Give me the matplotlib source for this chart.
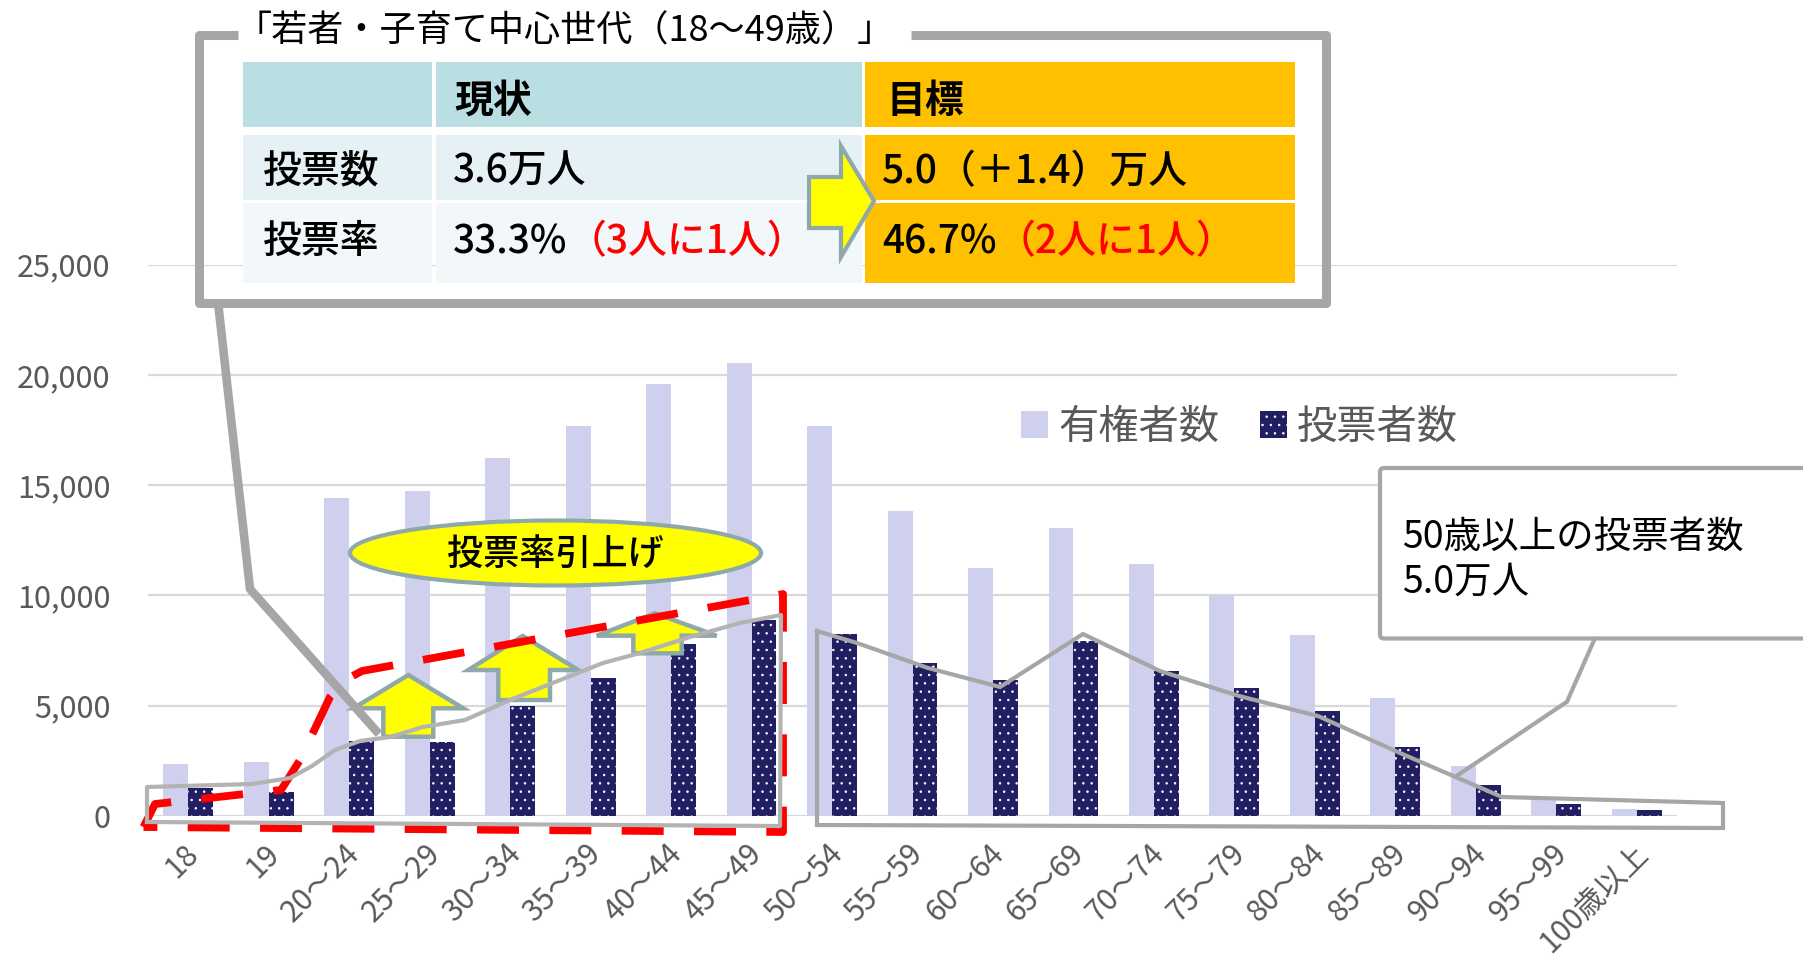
import matplotlib
matplotlib.use('Agg')
import matplotlib.pyplot as plt
import matplotlib.transforms as mtransforms
from matplotlib.patches import Polygon, Ellipse, FancyBboxPatch, Rectangle
from matplotlib.lines import Line2D
import numpy as np

plt.rcParams['font.family'] = ['Noto Sans CJK JP', 'DejaVu Sans']
plt.rcParams['hatch.linewidth'] = 0.55

# ---------------- data ----------------
categories = ['18', '19', '20～24', '25～29', '30～34', '35～39', '40～44', '45～49',
              '50～54', '55～59', '60～64', '65～69', '70～74', '75～79', '80～84',
              '85～89', '90～94', '95～99', '100歳以上']
eligible = [2350, 2450, 14400, 14730, 16220, 17690, 19570, 20560, 17690, 13810,
            11240, 13070, 11440, 10030, 8220, 5330, 2260, 780, 310]
voters = [1250, 1060, 3390, 3340, 4970, 6270, 7800, 8860, 8250, 6950,
          6140, 7920, 6580, 5790, 4760, 3120, 1380, 520, 250]
series_names = ['有権者数', '投票者数']
yticks = [0, 5000, 10000, 15000, 20000, 25000]
ytick_labels = ['0', '5,000', '10,000', '15,000', '20,000', '25,000']

title_text = '「若者・子育て中心世代（18～49歳）」'
table_header = ['', '現状', '目標']
row_labels = ['投票数', '投票率']
current_main = ['3.6万人', '33.3%']
current_note = ['', '（3人に1人）']
target_main = ['5.0（＋1.4）万人', '46.7%']
target_note = ['', '（2人に1人）']
ellipse_text = '投票率引上げ'
older_text = '50歳以上の投票者数\n5.0万人'

# ---------------- figure ----------------
W, H = 1803, 957
fig = plt.figure(figsize=(W / 100, H / 100), dpi=100)


def fx(px):
    return px / W


def fy(py):
    return 1 - py / H


AX_L, AX_R, AX_T, AX_B = 148, 1677, 264.7, 815.7
ax = fig.add_axes([fx(AX_L), fy(AX_B), (AX_R - AX_L) / W, (AX_B - AX_T) / H])

x = np.arange(len(categories))
bw = 0.31
ax.bar(x - bw / 2, eligible, width=bw, color='#CFD0EE', label=series_names[0], zorder=2)
ax.bar(x + bw / 2, voters, width=bw, color='#211F62', edgecolor='white', linewidth=0,
       hatch='..', label=series_names[1], zorder=3)
ax.set_xlim(-0.5, len(categories) - 0.5)
ax.set_ylim(0, 25000)
ax.set_yticks(yticks, ytick_labels)
ax.set_xticks(x, categories)
ax.grid(axis='y', color='#D9D9D9', lw=1.6, zorder=0)
ax.set_axisbelow(True)
for s in ax.spines.values():
    s.set_visible(False)
ax.tick_params(axis='both', length=0, labelsize=22, labelcolor='#595959')
ax.tick_params(axis='x', labelsize=21.5)
ax.tick_params(axis='y', pad=27)
ax.tick_params(axis='x', pad=24)
for lab in ax.get_xticklabels():
    lab.set_rotation(45)
    lab.set_ha('right')
    lab.set_va('center')
    lab.set_rotation_mode('anchor')
    lab.set_transform(lab.get_transform() +
                      mtransforms.ScaledTranslation(6 / 100, 0, fig.dpi_scale_trans))

ax.legend(loc='center left', bbox_to_anchor=(fx(1021), fy(427)),
          bbox_transform=fig.transFigure, ncol=2, frameon=False, fontsize=29,
          handlelength=0.68, handleheight=0.68, handletextpad=0.25,
          columnspacing=1.0, borderpad=0, borderaxespad=0, labelcolor='#595959')

# ---------------- overlay (pixel coordinates) ----------------
ov = fig.add_axes([0, 0, 1, 1], zorder=10)
ov.set_xlim(0, W)
ov.set_ylim(H, 0)
ov.axis('off')

GRAY = '#A6A6A6'
TEAL = '#8FA9AB'


def pline(pts, **kw):
    xs, ys = zip(*pts)
    ov.add_line(Line2D(xs, ys, **kw))


# big callout frame
pline([(238, 35), (199, 35), (199, 302.5), (1325.5, 302.5), (1325.5, 35), (911, 35)],
      color=GRAY, lw=6.5, solid_joinstyle='round', solid_capstyle='butt')
pline([(218, 302), (250, 589), (379, 734)], color=GRAY, lw=6.2,
      solid_joinstyle='round', solid_capstyle='butt')
ov.text(236, 32, title_text, fontsize=26, va='center', ha='left', color='black')

# table
cols = [(243, 432), (436, 862), (865, 1295)]
rows = [(62, 127), (135, 200), (203, 283)]
cell_colors = [['#B9DFE3', '#B9DFE3', '#FFC000'],
               ['#E5F1F4', '#E5F1F4', '#FFC000'],
               ['#F2F7FA', '#F2F7FA', '#FFC000']]
for ri, (y0, y1) in enumerate(rows):
    for ci, (x0, x1) in enumerate(cols):
        ov.add_patch(Rectangle((x0, y0), x1 - x0, y1 - y0, facecolor=cell_colors[ri][ci],
                               edgecolor='none'))
TS = 28
ov.text(454, 101, table_header[1], fontsize=TS, fontweight='bold', va='center', ha='left')
ov.text(886, 101, table_header[2], fontsize=TS, fontweight='bold', va='center', ha='left')
row_y = [172, 242]
for i in range(2):
    ov.text(263, row_y[i], row_labels[i], fontsize=TS, fontweight='medium',
            va='center', ha='left')
    t1 = ov.text(453, row_y[i], current_main[i], fontsize=TS, fontweight='medium',
                 va='center', ha='left')
    if current_note[i]:
        ov.annotate(current_note[i], xy=(1, 0), xycoords=t1, va='bottom', ha='left',
                    fontsize=TS, fontweight='medium', color='#FF0000')
    t2 = ov.text(882, row_y[i], target_main[i], fontsize=TS, fontweight='medium',
                 va='center', ha='left')
    if target_note[i]:
        ov.annotate(target_note[i], xy=(1, 0), xycoords=t2, va='bottom', ha='left',
                    fontsize=TS, fontweight='medium', color='#FF0000')

# right block arrow
ov.add_patch(Polygon([(809, 177), (841, 177), (841, 146), (874, 201), (841, 257),
                      (841, 228), (809, 228)], closed=True, facecolor='#FFFF00',
                     edgecolor=TEAL, lw=3))

# red dashed frame (young generation)
pline([(143.5, 827), (155, 804), (281, 790), (300, 760), (330, 697), (345, 680),
       (362, 671), (783, 594), (783, 832), (143.5, 827)],
      color='#FF0000', lw=5.6, linestyle=(0, (5.4, 3.9)), dash_capstyle='butt',
      dash_joinstyle='round')

# gray outline young
pline([(147, 822), (147, 787), (252, 784), (290, 778), (312, 766), (335, 750),
       (360, 741), (390, 737), (423, 727), (465, 720), (510, 700), (603, 663),
       (640, 653), (690, 637), (740, 623), (781, 615), (780, 826), (147, 822)],
      color='#B3B3B3', lw=3, solid_joinstyle='round')

# gray outline older
pline([(817, 631), (857, 643), (928, 668), (1000, 687), (1083, 634), (1160, 671),
       (1239, 696), (1318, 716), (1400, 753), (1502, 797), (1723, 803), (1723, 828),
       (817, 825), (817, 631)],
      color=GRAY, lw=3, solid_joinstyle='miter')

# up arrows
up_arrows = [
    (408.3, 675, 353.3, 463.3, 708.3, 383.3, 433.3, 736.7),
    (522.7, 636, 468.3, 578.3, 670, 498.3, 550, 700),
    (655, 613.3, 596.7, 716.7, 635.7, 633.3, 681.7, 653.3),
]
for tx, ty, hl, hr, hy, sl, sr, by in up_arrows:
    ov.add_patch(Polygon([(tx, ty), (hr, hy), (sr, hy), (sr, by), (sl, by), (sl, hy), (hl, hy)],
                         closed=True, facecolor='#FFFF00', edgecolor=TEAL, lw=3.2,
                         joinstyle='miter'))

# ellipse
ov.add_patch(Ellipse((555.5, 553), 411, 65, facecolor='#FFFF00', edgecolor=TEAL, lw=3))
ov.text(555.5, 555, ellipse_text, fontsize=26, fontweight='medium', ha='center', va='center')

# older callout box
pline([(1594.6, 639), (1567, 701.7), (1458, 775)], color=GRAY, lw=3,
      solid_joinstyle='miter')
ov.add_patch(FancyBboxPatch((1380, 468), 440, 170.5,
                            boxstyle='round,pad=0,rounding_size=4',
                            facecolor='white', edgecolor=GRAY, lw=3, clip_on=False))
ov.text(1402, 518, older_text, fontsize=27, ha='left', va='top', linespacing=1.2)

fig.savefig('out.png', dpi=100)
